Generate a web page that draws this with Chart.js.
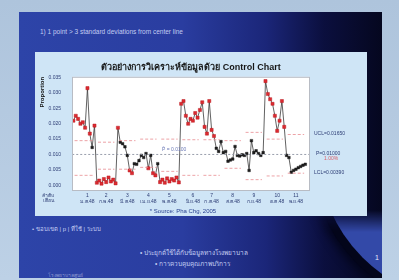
<!DOCTYPE html>
<html>
<head>
<meta charset="utf-8">
<script src="https://cdn.jsdelivr.net/npm/chart.js@4.4.1/dist/chart.umd.min.js"></script>
<style>
  html, body { margin: 0; padding: 0; }
  body {
    width: 399px; height: 280px; overflow: hidden; position: relative;
    background: linear-gradient(180deg, #aec4dc, #bdd1e6);
    font-family: "Liberation Sans", "DejaVu Sans", sans-serif;
  }
  #slide {
    position: absolute; left: 19px; top: 12px; width: 363px; height: 266px; overflow: hidden;
    background: linear-gradient(90deg, #2d44a8 0%, #2a3da0 45%, #1b2679 68%, #0b0f3e 84%, #05071f 100%);
  }
  #orbClip {
    position: absolute; left: 280px; top: 198px; width: 83px; height: 68px; overflow: hidden;
    -webkit-mask-image: linear-gradient(180deg, transparent 0, #000 22px);
  }
  #orb {
    position: absolute; left: 19px; top: -212px; width: 304px; height: 304px; border-radius: 50%;
    background: #3349a8; box-shadow: 0 0 0 8px #03051a, 0 0 10px 12px #03051a;
  }
  .txt { position: absolute; white-space: nowrap; color: #c3ccf2; }
  #panel {
    position: absolute; left: 35px; top: 52px; width: 332px; height: 164px;
    background: #cfe5f6;
  }
</style>
</head>
<body>
<div id="slide">
  <div id="orbClip"><div id="orb"></div></div>
</div>
<div class="txt" style="left:40px;top:28px;font-size:6.5px;">1) 1 point &gt; 3 standard deviations from center line</div>
<div class="txt" style="left:32px;top:224px;font-size:6px;">• ขอบเขต | p | ที่ใช้ | ระบบ</div>
<div class="txt" style="left:140px;top:248px;font-size:6.5px;">• ประยุกต์ใช้ได้กับข้อมูลทางโรงพยาบาล</div>
<div class="txt" style="left:155px;top:259px;font-size:6.5px;">• การควบคุมคุณภาพบริการ</div>
<div class="txt" style="left:48px;top:271px;font-size:5px;color:#8f9bd0;">โรงพยาบาลศูนย์</div>
<div class="txt" style="left:375px;top:254px;font-size:7px;color:#e8ecff;">1</div>
<div id="panel"><canvas id="chart"></canvas></div>

<script>
// x positions of the month labels (subgroup index)
const xTickIdx = [6, 14, 23, 32, 41, 51, 59, 68, 77, 87, 95];
const xTickNum = ['1', '2', '3', '4', '5', '6', '7', '8', '9', '10', '11'];
const xTickMonth = ['ม.ค.48', 'ก.พ.48', 'มี.ค.48', 'เม.ย.48', 'พ.ค.48', 'มิ.ย.48',
                    'ก.ค.48', 'ส.ค.48', 'ก.ย.48', 'ต.ค.48', 'พ.ย.48'];
const yTicks = [0, 0.005, 0.010, 0.015, 0.020, 0.025, 0.030, 0.035];

// proportion for each subgroup
const proportion = [
  0.0210, 0.0226, 0.0216, 0.0200, 0.0205, 0.0187, 0.0316, 0.0168, 0.0123, 0.0194,
  0.0008, 0.0015, 0.0005, 0.0020, 0.0010, 0.0025, 0.0012, 0.0018, 0.0006,
  0.0187, 0.0140, 0.0135, 0.0125, 0.0097, 0.0048, 0.0039, 0.0070, 0.0068,
  0.0080, 0.0097, 0.0090, 0.0103, 0.0055, 0.0097, 0.0039, 0.0032, 0.0070,
  0.0010, 0.0018, 0.0008, 0.0022, 0.0012, 0.0020, 0.0015, 0.0025, 0.0009,
  0.0265, 0.0274, 0.0226, 0.0200, 0.0216, 0.0210, 0.0235, 0.0220, 0.0245,
  0.0270, 0.0190, 0.0168, 0.0274, 0.0180, 0.0160, 0.0120, 0.0110, 0.0142,
  0.0106, 0.0110, 0.0078, 0.0082, 0.0085, 0.0126, 0.0097, 0.0095, 0.0099,
  0.0097, 0.0103, 0.0048, 0.0145, 0.0106, 0.0112, 0.0103, 0.0097, 0.0106,
  0.0339, 0.0297, 0.0280, 0.0265, 0.0226, 0.0177, 0.0210, 0.0274, 0.0190,
  0.0097, 0.0090, 0.0042, 0.0048, 0.0052, 0.0057, 0.0061, 0.0065, 0.0068
];

// control limits per month (start index of each month, last entry = end)
const monthStart = [0, 10, 19, 28, 37, 46, 55, 64, 73, 82, 91, 100];
const ucl = [0.0145, 0.0140, 0.0145, 0.0150, 0.0150, 0.0148, 0.0148, 0.0145, 0.0172, 0.0150, 0.0165];
const lcl = [0.0032, 0.0052, 0.0052, 0.0058, 0.0045, 0.0032, 0.0032, 0.0055, 0.0018, 0.0030, 0.0039];
const pBar = 0.0100;

function monthOf(i) {
  let k = 0;
  while (k < ucl.length - 1 && i >= monthStart[k + 1]) k++;
  return k;
}
function isOut(i) {
  const k = monthOf(i), v = proportion[i];
  return v > ucl[k] || v < lcl[k];
}
// one short segment per month, broken between months
function limitLine(arr) {
  const pts = [];
  arr.forEach((v, k) => {
    pts.push({ x: monthStart[k] + 0.5, y: v });
    pts.push({ x: monthStart[k + 1] - 1.5, y: v });
    pts.push({ x: monthStart[k + 1] - 1, y: null });
  });
  return pts;
}

const font = '"Liberation Sans", "DejaVu Sans", sans-serif';

const extras = {
  id: 'extras',
  beforeDatasetsDraw(chart) {
    const { ctx, chartArea: a } = chart;
    ctx.save();
    ctx.fillStyle = '#ffffff';
    ctx.fillRect(a.left, a.top, a.right - a.left, a.bottom - a.top);
    ctx.restore();
  },
  afterDraw(chart) {
    const { ctx, chartArea: a, scales: { y } } = chart;
    ctx.save();
    ctx.strokeStyle = '#b8bcc4';
    ctx.lineWidth = 1;
    ctx.strokeRect(a.left + 0.5, a.top + 0.5, a.right - a.left - 1, a.bottom - a.top - 1);

    ctx.font = '5px ' + font;
    ctx.fillStyle = '#2c3c74';
    ctx.textAlign = 'left';
    ctx.textBaseline = 'middle';
    const lastU = ucl[ucl.length - 1], lastL = lcl[lcl.length - 1];
    ctx.fillText('UCL=' + lastU.toFixed(5), a.right + 4, y.getPixelForValue(lastU) - 1);
    ctx.fillText('P=' + pBar.toFixed(5), a.right + 6, y.getPixelForValue(pBar) - 1);
    ctx.fillText('LCL=' + lastL.toFixed(5), a.right + 4, y.getPixelForValue(lastL) - 1);
    ctx.fillStyle = '#d9606a';
    ctx.fillText('1.00%', a.right + 14, y.getPixelForValue(pBar) + 4);

    ctx.fillStyle = '#6a78b6';
    ctx.fillText('P̄ = 0.0100', a.left + 90, y.getPixelForValue(pBar) - 5);

    ctx.fillStyle = '#2c3c74';
    ctx.textAlign = 'center';
    ctx.fillText('ลำดับ', a.left - 24, a.bottom + 5);
    ctx.fillText('เดือน', a.left - 24, a.bottom + 10);

    ctx.font = '6px ' + font;
    ctx.fillStyle = '#27408f';
    ctx.fillText('* Source: Pha Chg, 2005', (a.left + a.right) / 2 - 8, a.bottom + 20);
    ctx.restore();
  }
};

new Chart(document.getElementById('chart'), {
  type: 'line',
  data: {
    datasets: [
      {
        label: 'UCL',
        data: limitLine(ucl),
        spanGaps: false,
        borderColor: '#e98c90',
        borderWidth: 0.8,
        borderDash: [3, 2],
        pointRadius: 0
      },
      {
        label: 'LCL',
        data: limitLine(lcl),
        spanGaps: false,
        borderColor: '#e98c90',
        borderWidth: 0.8,
        borderDash: [3, 2],
        pointRadius: 0
      },
      {
        label: 'Center',
        data: [{ x: -0.5, y: pBar }, { x: 101, y: pBar }],
        borderColor: '#8d93a3',
        borderWidth: 0.9,
        borderDash: [2, 2],
        pointRadius: 0
      },
      {
        label: 'p',
        data: proportion.map((v, i) => ({ x: i, y: v })),
        borderColor: '#3a3a3a',
        borderWidth: 0.8,
        pointStyle: 'rect',
        pointRadius: ctx => isOut(ctx.dataIndex) ? 2.2 : 1.8,
        pointBackgroundColor: ctx => isOut(ctx.dataIndex) ? '#dd2a30' : '#1c1c1c',
        pointBorderColor: ctx => isOut(ctx.dataIndex) ? '#b81c22' : '#1c1c1c',
        pointBorderWidth: 0.5
      }
    ]
  },
  options: {
    responsive: true,
    maintainAspectRatio: false,
    animation: false,
    layout: { padding: { top: 2, left: 4, right: 57, bottom: 1 } },
    plugins: {
      legend: { display: false },
      tooltip: { enabled: false },
      title: {
        display: true,
        fullSize: false,
        text: 'ตัวอย่างการวิเคราะห์ข้อมูลด้วย Control Chart',
        color: '#161616',
        font: { family: font, size: 9, weight: 'bold' },
        padding: { top: 8, bottom: 4 }
      }
    },
    scales: {
      x: {
        type: 'linear',
        min: -0.6,
        max: 101,
        afterBuildTicks: s => { s.ticks = xTickIdx.map(v => ({ value: v })); },
        afterFit: s => { s.height = 24; },
        grid: { display: false },
        border: { display: false },
        ticks: {
          autoSkip: false,
          maxRotation: 0,
          padding: -6,
          color: '#2c3c74',
          font: { family: font, size: 5 },
          callback: v => {
            const k = xTickIdx.indexOf(v);
            return k < 0 ? '' : [xTickNum[k], xTickMonth[k]];
          }
        }
      },
      y: {
        min: -0.0019,
        max: 0.0353,
        afterBuildTicks: s => { s.ticks = yTicks.map(v => ({ value: v })); },
        afterFit: s => { s.width = 33; },
        grid: { display: false },
        border: { display: false },
        title: {
          display: true,
          text: 'Proportion',
          align: 'end',
          color: '#111',
          font: { family: font, size: 6, weight: 'bold' },
          padding: 0
        },
        ticks: {
          padding: 3,
          color: '#2c3c74',
          font: { family: font, size: 5 },
          callback: v => v.toFixed(3)
        }
      }
    }
  },
  plugins: [extras]
});
</script>
</body>
</html>
